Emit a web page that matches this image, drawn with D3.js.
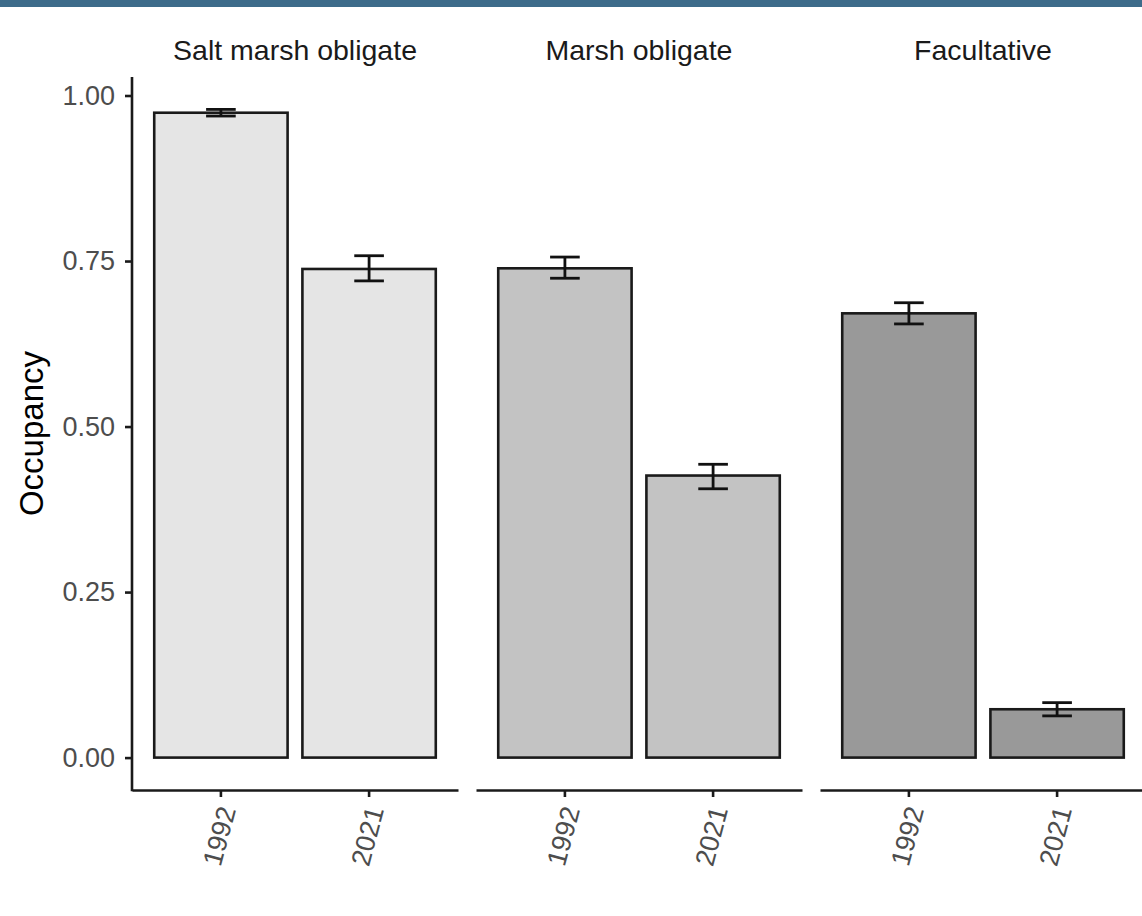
<!DOCTYPE html>
<html>
<head>
<meta charset="utf-8">
<script src="https://cdn.jsdelivr.net/npm/d3@7"></script>
<style>
  html, body { margin: 0; padding: 0; background: #ffffff; }
  svg { display: block; }
  text { font-family: "Liberation Sans", Arial, Helvetica, sans-serif; }
</style>
</head>
<body>
<svg id="chart" width="1142" height="916"></svg>
<script>
// Guild occupancy estimates, 1992 vs 2021
const groups = ["Salt marsh obligate", "Marsh obligate", "Facultative"];
const years = ["1992", "2021"];
const occupancy = [[0.974, 0.738], [0.739, 0.426], [0.671, 0.073]];
const lowerCI   = [[0.969, 0.720], [0.724, 0.406], [0.655, 0.063]];
const upperCI   = [[0.979, 0.758], [0.756, 0.443], [0.687, 0.083]];
const yTicks = [0, 0.25, 0.5, 0.75, 1.0];
const fills = ["#e5e5e5", "#c3c3c3", "#999999"];

const svg = d3.select("#chart");

// header band
svg.append("rect").attr("x", 0).attr("y", 0).attr("width", 1142).attr("height", 7)
  .attr("fill", "#3d6b8a");

const rows = groups.flatMap((g, gi) => years.map((yr, yi) => ({
  group: g, year: yr, gi,
  value: occupancy[gi][yi], lo: lowerCI[gi][yi], hi: upperCI[gi][yi]
})));

// y scale with 5% expansion on both sides of the data range
const yMax = d3.max(rows, d => d.hi);
const pad = 0.05 * yMax;
const y = d3.scaleLinear().domain([-pad, yMax + pad]).range([790, 77]);

// facet panels
const panel = d3.scaleBand().domain(groups).range([132, 1146])
  .paddingInner(18 / 344).paddingOuter(0);
const x = d3.scaleBand().domain(years).range([0, panel.bandwidth()])
  .paddingInner(0.1).paddingOuter(0.15);

const labelSize = 27;

groups.forEach((g, gi) => {
  const gp = svg.append("g").attr("transform", `translate(${panel(g)},0)`);
  const data = rows.filter(d => d.group === g);

  // strip label
  gp.append("text")
    .attr("x", panel.bandwidth() / 2).attr("y", 60)
    .attr("text-anchor", "middle")
    .attr("font-size", 28.5).attr("fill", "#1a1a1a")
    .text(g);

  // bars
  gp.selectAll("rect.bar").data(data).join("rect")
    .attr("class", "bar")
    .attr("x", d => x(d.year))
    .attr("width", x.bandwidth())
    .attr("y", d => y(d.value))
    .attr("height", d => y(0) - y(d.value))
    .attr("fill", fills[gi])
    .attr("stroke", "#1a1a1a").attr("stroke-width", 2.6);

  // error bars
  const capW = x.step() * 0.2;
  const eb = gp.selectAll("g.eb").data(data).join("g").attr("class", "eb")
    .attr("stroke", "#111").attr("stroke-width", 2.8).attr("fill", "none");
  eb.append("line")
    .attr("x1", d => x(d.year) + x.bandwidth() / 2).attr("x2", d => x(d.year) + x.bandwidth() / 2)
    .attr("y1", d => y(d.lo)).attr("y2", d => y(d.hi));
  eb.append("line")
    .attr("x1", d => x(d.year) + x.bandwidth() / 2 - capW / 2)
    .attr("x2", d => x(d.year) + x.bandwidth() / 2 + capW / 2)
    .attr("y1", d => y(d.lo)).attr("y2", d => y(d.lo));
  eb.append("line")
    .attr("x1", d => x(d.year) + x.bandwidth() / 2 - capW / 2)
    .attr("x2", d => x(d.year) + x.bandwidth() / 2 + capW / 2)
    .attr("y1", d => y(d.hi)).attr("y2", d => y(d.hi));

  // x axis for the panel
  const xa = gp.append("g").attr("transform", `translate(0,${y.range()[0]})`)
    .call(d3.axisBottom(x).tickSize(7).tickSizeOuter(0).tickPadding(6));
  xa.select(".domain").attr("stroke", "#1a1a1a").attr("stroke-width", 2.6);
  xa.selectAll(".tick line").attr("stroke", "#1a1a1a").attr("stroke-width", 2.6);
  xa.selectAll(".tick text")
    .attr("font-size", labelSize).attr("fill", "#4d4d4d")
    .attr("text-anchor", "end")
    .attr("x", 0).attr("y", 0).attr("dy", "0.35em")
    .attr("transform", "translate(6,17) rotate(-75)");
});

// y axis
const ya = svg.append("g").attr("transform", `translate(${panel.range()[0]},0)`)
  .call(d3.axisLeft(y).tickValues(yTicks).tickFormat(d3.format(".2f"))
    .tickSize(7).tickSizeOuter(0).tickPadding(10));
ya.select(".domain").attr("stroke", "#1a1a1a").attr("stroke-width", 2.6)
  .attr("d", `M0,${y.range()[1]}V${y.range()[0] + 1.3}`);
ya.selectAll(".tick line").attr("stroke", "#1a1a1a").attr("stroke-width", 2.6);
ya.selectAll(".tick text").attr("font-size", labelSize).attr("fill", "#4d4d4d");

// y axis title
svg.append("text")
  .attr("transform", `translate(43,${(y.range()[0] + y.range()[1]) / 2}) rotate(-90)`)
  .attr("text-anchor", "middle")
  .attr("font-size", 33).attr("fill", "#000")
  .text("Occupancy");
</script>
</body>
</html>
